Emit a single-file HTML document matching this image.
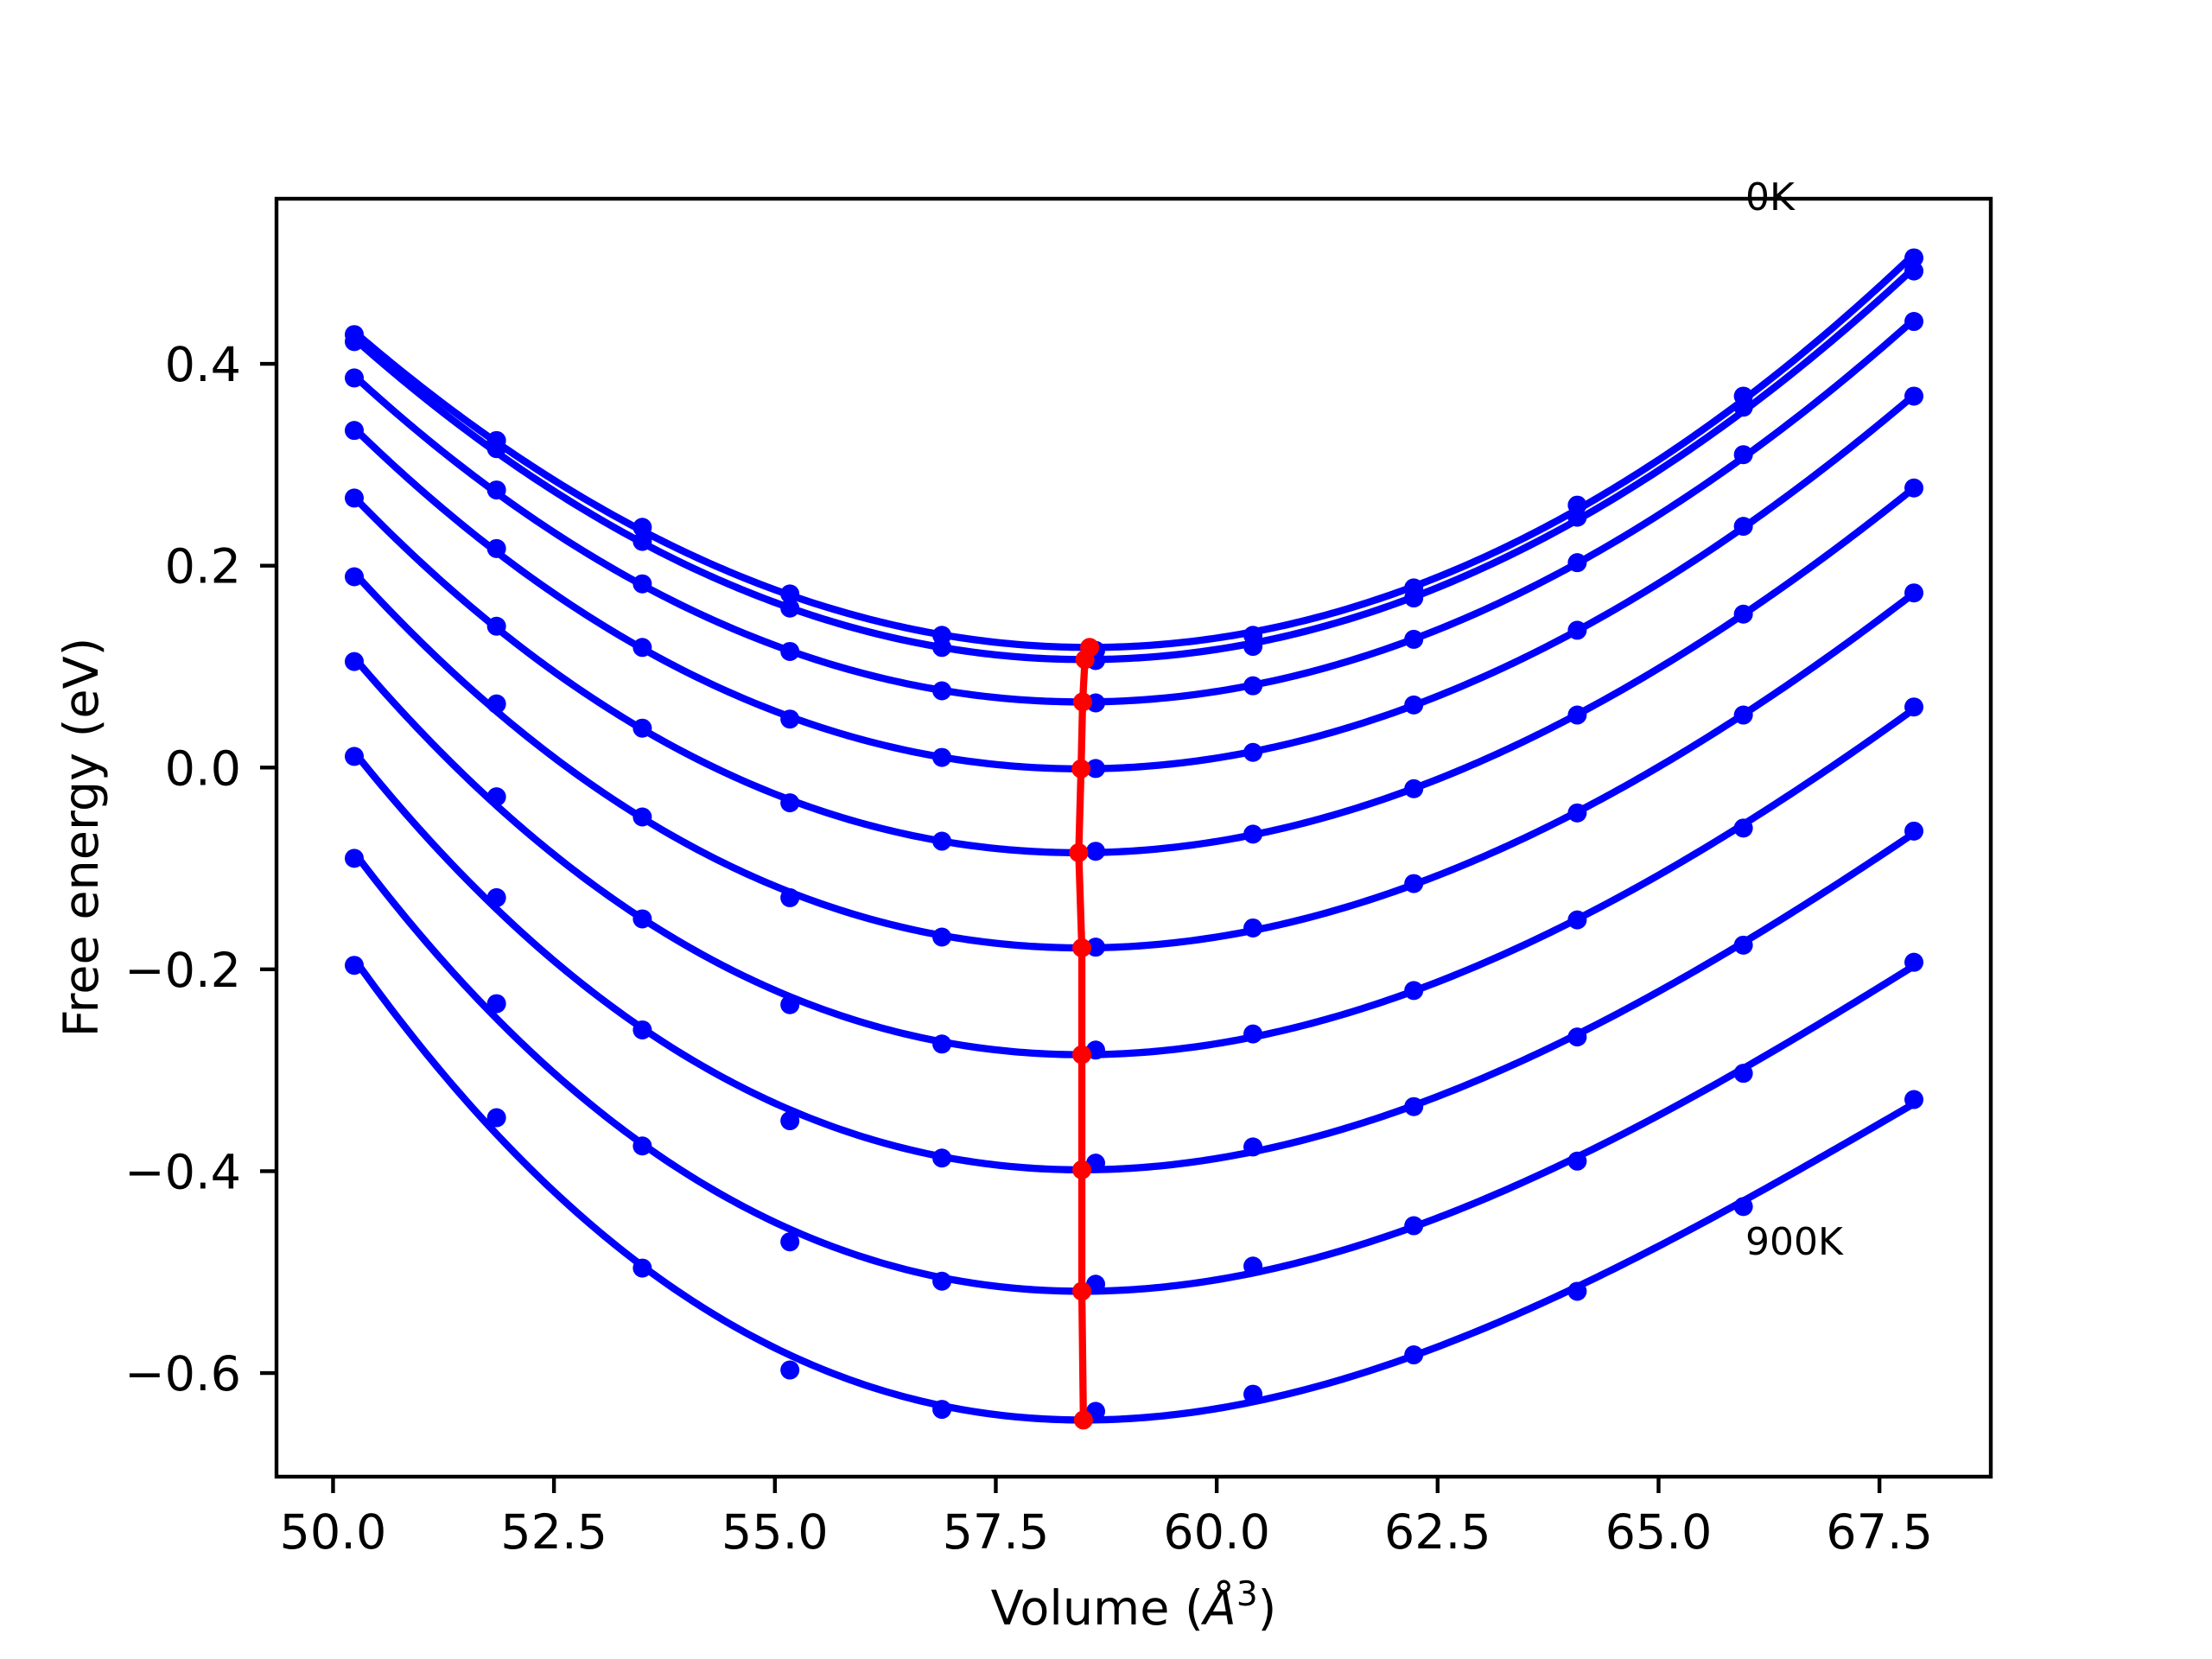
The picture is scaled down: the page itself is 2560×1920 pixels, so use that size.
<!DOCTYPE html>
<html><head><meta charset="utf-8"><style>
html,body{margin:0;padding:0;background:#fff;}
svg{display:block;font-family:"DejaVu Sans","Liberation Sans",sans-serif;}
</style></head><body>
<svg id="chart" width="2560" height="1920" viewBox="0 0 2560 1920" xmlns="http://www.w3.org/2000/svg">
<rect x="0" y="0" width="2560" height="1920" fill="#fff"/>
<g id="plot"></g>
<g id="axes"></g>
<text x="2020" y="243" font-size="44">0K</text>
<text x="2020" y="1452" font-size="44">900K</text>
<text x="1312" y="1880" font-size="55.6" text-anchor="middle">Volume (<tspan font-style="italic">Å</tspan><tspan font-size="39" dy="-22">3</tspan><tspan dy="22">)</tspan></text>
<text transform="translate(113,969) rotate(-90)" font-size="55.6" text-anchor="middle">Free energy (eV)</text>
</svg>
<script>
const volumes = [50.24, 51.85, 53.50, 55.17, 56.89, 58.63, 60.41, 62.23, 64.08, 65.96, 67.89];
const energy0K   = [0.429, 0.324, 0.238, 0.172, 0.131, 0.116, 0.131, 0.178, 0.260, 0.368, 0.505];
const energy100K = [0.422, 0.316, 0.224, 0.158, 0.119, 0.106, 0.120, 0.168, 0.248, 0.357, 0.492];
const energy200K = [0.386, 0.275, 0.182, 0.115, 0.076, 0.064, 0.081, 0.127, 0.203, 0.310, 0.442];
const energy300K = [0.334, 0.217, 0.119, 0.048, 0.010, -0.001, 0.015, 0.062, 0.136, 0.239, 0.368];
const energy400K = [0.267, 0.140, 0.039, -0.035, -0.073, -0.083, -0.066, -0.021, 0.052, 0.152, 0.277];
const energy500K = [0.189, 0.063, -0.049, -0.129, -0.168, -0.178, -0.159, -0.115, -0.045, 0.052, 0.173];
const energy600K = [0.105, -0.029, -0.150, -0.235, -0.274, -0.280, -0.264, -0.221, -0.151, -0.060, 0.060];
const energy700K = [0.011, -0.129, -0.260, -0.350, -0.387, -0.392, -0.376, -0.336, -0.267, -0.176, -0.063];
const energy800K = [-0.090, -0.234, -0.375, -0.470, -0.509, -0.512, -0.494, -0.454, -0.390, -0.303, -0.193];
const energy900K = [-0.196, -0.347, -0.496, -0.597, -0.636, -0.638, -0.621, -0.582, -0.519, -0.435, -0.329];
const xTicks = [50.0, 52.5, 55.0, 57.5, 60.0, 62.5, 65.0, 67.5];
const xTickLabels = ["50.0","52.5","55.0","57.5","60.0","62.5","65.0","67.5"];
const yTicks = [0.4, 0.2, 0.0, -0.2, -0.4, -0.6];
const yTickLabels = ["0.4","0.2","0.0","\u22120.2","\u22120.4","\u22120.6"];

const series = [energy0K, energy100K, energy200K, energy300K, energy400K, energy500K, energy600K, energy700K, energy800K, energy900K];
const AX = {l:320, r:2304, t:230, b:1709};
const X0 = 49.36, X1 = 68.76, Y0 = -0.7027, Y1 = 0.5636;
function sx(v){ return AX.l + (v - X0) / (X1 - X0) * (AX.r - AX.l); }
function sy(v){ return AX.b - (v - Y0) / (Y1 - Y0) * (AX.b - AX.t); }
const NS = "http://www.w3.org/2000/svg";
const plot = document.getElementById('plot');
const axes = document.getElementById('axes');
function mk(tag, attrs, parent){ const e = document.createElementNS(NS, tag); for (const k in attrs) e.setAttribute(k, attrs[k]); parent.appendChild(e); return e; }

function cubicFit(xs, ys){
  const c = 59; const n = 4;
  const A = [], B = [];
  for (let i=0;i<n;i++){ A.push(new Array(n).fill(0)); B.push(0); }
  for (let k=0;k<xs.length;k++){
    const t = xs[k]-c;
    for (let i=0;i<n;i++){ B[i] += Math.pow(t,i)*ys[k]; for (let j=0;j<n;j++) A[i][j] += Math.pow(t,i+j); }
  }
  for (let i=0;i<n;i++){
    let p=i; for (let r=i+1;r<n;r++) if (Math.abs(A[r][i])>Math.abs(A[p][i])) p=r;
    [A[i],A[p]]=[A[p],A[i]]; [B[i],B[p]]=[B[p],B[i]];
    for (let r=i+1;r<n;r++){ const f=A[r][i]/A[i][i]; for (let j=i;j<n;j++) A[r][j]-=f*A[i][j]; B[r]-=f*B[i]; }
  }
  const co = new Array(n).fill(0);
  for (let i=n-1;i>=0;i--){ let s=B[i]; for (let j=i+1;j<n;j++) s-=A[i][j]*co[j]; co[i]=s/A[i][i]; }
  return v => { const t=v-c; return co[0]+co[1]*t+co[2]*t*t+co[3]*t*t*t; };
}

const minX = [], minY = [];
const vMin = Math.min(...volumes), vMax = Math.max(...volumes);
series.forEach((ys, si) => {
  const f = cubicFit(volumes, ys);
  let d = "";
  for (let i=0;i<=300;i++){
    const v = vMin + (vMax-vMin)*i/300;
    d += (i?"L":"M") + sx(v).toFixed(2) + "," + sy(f(v)).toFixed(2);
  }
  const line = mk('path', {d:d, fill:'none', stroke:'#0000ff', 'stroke-width':8.3}, plot);
  
  
  let bx = vMin, by = Infinity;
  for (let i=0;i<=2000;i++){ const v = vMin+(vMax-vMin)*i/2000; const y=f(v); if (y<by){by=y;bx=v;} }
  minX.push(bx); minY.push(by);
});
series.forEach((ys, si) => {
  ys.forEach((y, k) => {
    const c = mk('circle', {cx:sx(volumes[k]), cy:sy(y), r:11, fill:'#0000ff'}, plot);
    
    
  });
});
let dm = "";
minX.forEach((v,i) => { dm += (i?"L":"M") + sx(v).toFixed(2) + "," + sy(minY[i]).toFixed(2); });
const ml = mk('path', {d:dm, fill:'none', stroke:'#ff0000', 'stroke-width':8.3}, plot);


minX.forEach((v,i) => {
  const c = mk('circle', {cx:sx(v), cy:sy(minY[i]), r:11, fill:'#ff0000'}, plot);
  
  
});

const frame = mk('rect', {x:AX.l, y:AX.t, width:AX.r-AX.l, height:AX.b-AX.t, fill:'none', stroke:'#000', 'stroke-width':4.4}, axes);


xTicks.forEach((v,i) => {
  const t = mk('line', {x1:sx(v), x2:sx(v), y1:AX.b, y2:AX.b+19, stroke:'#000', 'stroke-width':4.4}, axes);
  
  
  const l = mk('text', {x:sx(v), y:1792, 'font-size':55.6, 'text-anchor':'middle'}, axes);
  l.textContent = xTickLabels[i];
  
  
});
yTicks.forEach((v,i) => {
  const t = mk('line', {x1:AX.l-19, x2:AX.l, y1:sy(v), y2:sy(v), stroke:'#000', 'stroke-width':4.4}, axes);
  
  
  const l = mk('text', {x:279, y:sy(v)+20, 'font-size':55.6, 'text-anchor':'end'}, axes);
  l.textContent = yTickLabels[i];
  
  
});
</script>
</body></html>
